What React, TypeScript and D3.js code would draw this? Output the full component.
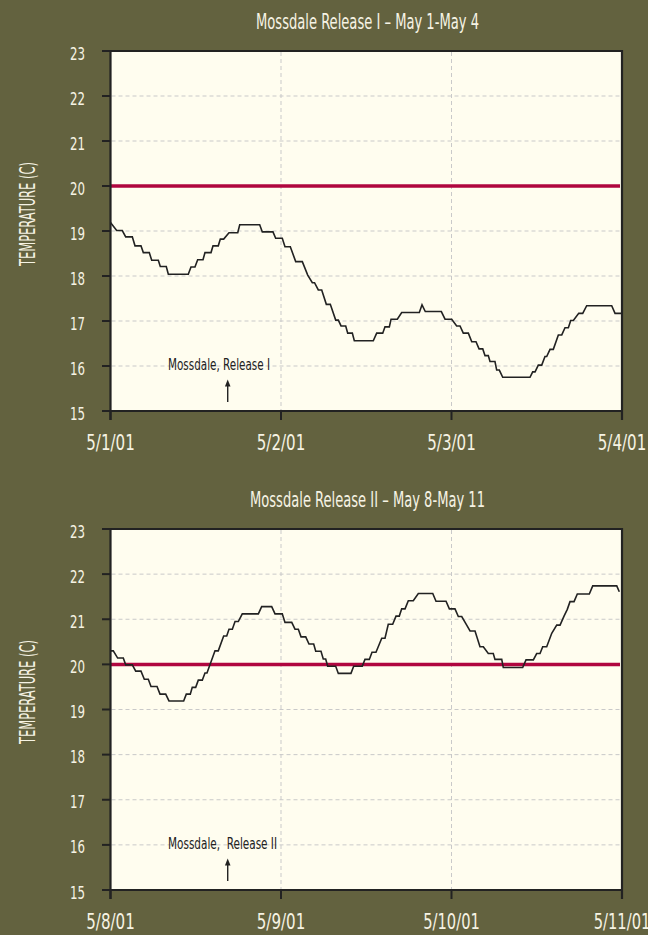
import React from "react";
import * as d3 from "d3";

// ---------- DATA ----------
// Hours since midnight of the first day, and water temperature (°C)
const HOURS_1 = [
  0, 0.87, 1.66, 2.14, 3.07, 3.45, 4.29, 4.62, 5.46, 5.8, 6.73, 7.01, 7.85, 8.14, 10.95, 11.33,
  11.89, 12.27, 13.02, 13.3, 14.15, 14.43, 15.17, 15.46, 15.93, 16.68, 17.91, 18.19, 21.0, 21.37,
  22.87, 23.25, 24.18, 24.56, 25.31, 26.07, 27.0, 27.76, 28.41, 28.72, 29.25, 29.73, 30.38, 30.94,
  31.7, 32.07, 32.45, 33.11, 33.39, 34.04, 34.32, 36.99, 37.47, 38.32, 38.64, 39.25, 39.49, 40.37,
  40.99, 43.47, 43.85, 44.31, 46.57, 47.09, 48.03, 48.73, 49.2, 49.66, 50.37, 50.85, 51.45, 51.88,
  52.4, 52.72, 53.18, 53.42, 54.12, 54.36, 54.73, 55.21, 59.05, 59.43, 59.76, 60.22, 60.7, 61.16,
  61.4, 61.87, 62.33, 63.04, 63.52, 63.98, 64.45, 64.78, 65.15, 65.91, 66.47, 67.03, 70.55, 71.02,
  72.0,
];
const TEMPS_1 = [
  19.19, 19.01, 19.01, 18.87, 18.87, 18.67, 18.67, 18.52, 18.52, 18.35, 18.35, 18.21, 18.21, 18.04,
  18.04, 18.2, 18.2, 18.36, 18.36, 18.52, 18.52, 18.67, 18.67, 18.82, 18.82, 18.96, 18.96, 19.14,
  19.14, 18.98, 18.98, 18.84, 18.84, 18.65, 18.65, 18.32, 18.32, 18.02, 17.85, 17.85, 17.69, 17.69,
  17.37, 17.37, 17.02, 17.02, 16.89, 16.89, 16.73, 16.73, 16.56, 16.56, 16.73, 16.73, 16.87, 16.87,
  17.04, 17.04, 17.19, 17.19, 17.36, 17.21, 17.21, 17.04, 17.04, 16.89, 16.89, 16.73, 16.73, 16.54,
  16.54, 16.38, 16.38, 16.23, 16.23, 16.1, 16.1, 15.91, 15.91, 15.75, 15.75, 15.87, 15.87, 16.02,
  16.02, 16.21, 16.21, 16.37, 16.37, 16.69, 16.69, 16.85, 16.85, 17.01, 17.01, 17.17, 17.17, 17.34,
  17.34, 17.17, 17.17,
];

const HOURS_2 = [
  0, 0.39, 1.01, 1.8, 2.14, 3.07, 3.55, 4.29, 4.76, 5.32, 5.7, 6.55, 6.97, 7.77, 8.23, 10.3, 10.67,
  11.23, 11.51, 11.99, 12.36, 12.92, 13.3, 13.58, 14.71, 15.17, 15.93, 16.36, 16.68, 17.15, 17.53,
  17.99, 18.55, 20.81, 21.28, 22.69, 23.16, 24.18, 24.56, 25.51, 25.97, 26.44, 26.82, 27.48, 27.94,
  28.6, 28.89, 29.63, 29.95, 30.29, 30.57, 31.7, 32.07, 33.85, 34.23, 35.44, 35.82, 36.43, 36.81,
  37.37, 38.18, 38.64, 39.1, 39.72, 40.19, 40.65, 40.99, 41.46, 41.92, 42.62, 43.33, 45.36, 45.82,
  47.23, 47.7, 48.49, 48.96, 49.44, 50.14, 50.61, 51.31, 52.01, 52.48, 53.18, 53.88, 54.12, 55.07,
  55.29, 58.02, 58.49, 59.52, 59.99, 60.46, 60.84, 61.4, 62.11, 62.81, 63.28, 63.84, 64.3, 64.68,
  65.25, 65.71, 67.4, 67.88, 71.26, 71.62,
];
const TEMPS_2 = [
  20.3, 20.3, 20.14, 20.14, 19.99, 19.99, 19.85, 19.85, 19.67, 19.67, 19.51, 19.51, 19.34, 19.34,
  19.19, 19.19, 19.34, 19.34, 19.49, 19.49, 19.65, 19.65, 19.81, 19.81, 20.3, 20.3, 20.63, 20.63,
  20.78, 20.78, 20.95, 20.95, 21.12, 21.12, 21.28, 21.28, 21.12, 21.12, 20.93, 20.93, 20.78, 20.78,
  20.61, 20.61, 20.45, 20.45, 20.29, 20.29, 20.12, 20.12, 19.96, 19.96, 19.8, 19.8, 19.96, 19.96,
  20.11, 20.11, 20.27, 20.27, 20.58, 20.58, 20.89, 20.89, 21.07, 21.07, 21.23, 21.23, 21.41, 21.41,
  21.57, 21.57, 21.4, 21.4, 21.23, 21.23, 21.06, 21.06, 20.87, 20.74, 20.74, 20.39, 20.39, 20.24,
  20.24, 20.11, 20.11, 19.93, 19.93, 20.1, 20.1, 20.24, 20.24, 20.39, 20.39, 20.69, 20.87, 20.87,
  21.07, 21.22, 21.39, 21.39, 21.56, 21.56, 21.74, 21.74, 21.61,
];

const X_TICK_HOURS = [0, 24, 48, 72];
const X_LABELS_1 = ["5/1/01", "5/2/01", "5/3/01", "5/4/01"];
const X_LABELS_2 = ["5/8/01", "5/9/01", "5/10/01", "5/11/01"];
const Y_TICKS = [15, 16, 17, 18, 19, 20, 21, 22, 23];
const THRESHOLD = 20;
const TITLE_1 = "Mossdale Release I \u2013 May 1-May 4";
const TITLE_2 = "Mossdale Release II \u2013 May 8-May 11";
const Y_TITLE = "TEMPERATURE (C)";
const NOTE_1 = "Mossdale, Release I";
const NOTE_2 = "Mossdale,  Release II";
// annotation anchor (hour, temp) for text start / arrow
const NOTE_TEXT_HOUR = 8.1;
const NOTE_TEXT_TEMP = 15.91;
const NOTE_ARROW_HOUR = 16.5;
const NOTE_ARROW_TIP = 15.7;
const NOTE_ARROW_BASE = 15.2;

// ---------- STYLE ----------
const W = 648;
const H = 935;
const BG = "#63623f";
const PLOT_BG = "#fffdef";
const LIGHT = "#f6f3e4";
const DARK = "#222222";
const RED = "#b0063f";
const FONT = "'DejaVu Sans Condensed', 'Liberation Sans Narrow', 'Roboto', sans-serif";

const LEFT = 110.5;
const RIGHT = 622;

type PanelProps = {
  top: number;
  bottom: number;
  hours: number[];
  temps: number[];
  xLabels: string[];
  title: string;
  titleBaseline: number;
  titleWidth: number;
  note: string;
  noteWidth: number;
  yTitleCenter: number;
};

function Panel(p: PanelProps) {
  const x = d3.scaleLinear().domain([0, 72]).range([LEFT, RIGHT]);
  const y = d3.scaleLinear().domain([15, 23]).range([p.bottom, p.top]);
  const pts = p.hours.map((h, i) => [h, p.temps[i]] as [number, number]);
  const line = d3
    .line<[number, number]>()
    .x((d) => x(d[0]))
    .y((d) => y(d[1]));

  const ax = x(NOTE_ARROW_HOUR);
  const tipY = y(NOTE_ARROW_TIP);
  const baseY = y(NOTE_ARROW_BASE);

  return (
    <g>
      <text
        x={367.5}
        y={p.titleBaseline}
        textAnchor="middle"
        fontSize={21}
        fill={LIGHT}
        fontFamily={FONT}
        textLength={p.titleWidth}
        lengthAdjust="spacingAndGlyphs"
      >
        {p.title}
      </text>
      <rect x={LEFT} y={p.top} width={RIGHT - LEFT} height={p.bottom - p.top} fill={PLOT_BG} />
      {/* grid */}
      {Y_TICKS.filter((t) => t > 15 && t < 23).map((t) => (
        <line
          key={"gy" + t}
          x1={LEFT + 1}
          x2={RIGHT - 1}
          y1={y(t)}
          y2={y(t)}
          stroke="#c9c9c9"
          strokeWidth={1}
          strokeDasharray="4 3"
        />
      ))}
      {X_TICK_HOURS.filter((h) => h > 0 && h < 72).map((h) => (
        <line
          key={"gx" + h}
          x1={x(h)}
          x2={x(h)}
          y1={p.top + 1}
          y2={p.bottom - 1}
          stroke="#c9c9c9"
          strokeWidth={1}
          strokeDasharray="4 3"
        />
      ))}
      {/* threshold */}
      <line
        x1={LEFT}
        x2={x(72) - 2}
        y1={y(THRESHOLD)}
        y2={y(THRESHOLD)}
        stroke={RED}
        strokeWidth={3.5}
      />
      {/* data */}
      <path d={line(pts) || ""} fill="none" stroke={DARK} strokeWidth={1.6} strokeLinejoin="miter" />
      {/* frame */}
      <line x1={LEFT} x2={RIGHT} y1={p.top} y2={p.top} stroke={DARK} strokeWidth={2} />
      <line x1={RIGHT} x2={RIGHT} y1={p.top - 1} y2={p.bottom + 9} stroke={DARK} strokeWidth={2.2} />
      <line x1={LEFT} x2={LEFT} y1={p.top - 1} y2={p.bottom + 9} stroke={DARK} strokeWidth={2.2} />
      <line x1={LEFT - 1} x2={RIGHT + 1} y1={p.bottom} y2={p.bottom} stroke={DARK} strokeWidth={2.2} />
      {/* y ticks */}
      {Y_TICKS.map((t) => (
        <g key={"yt" + t}>
          <line x1={LEFT - 8.5} x2={LEFT} y1={y(t)} y2={y(t)} stroke={DARK} strokeWidth={2} />
          <text
            x={85}
            y={y(t) + 8.5}
            textAnchor="end"
            fontSize={18.5}
            fill={LIGHT}
            fontFamily={FONT}
            textLength={15}
            lengthAdjust="spacingAndGlyphs"
          >
            {t}
          </text>
        </g>
      ))}
      {/* x ticks */}
      {X_TICK_HOURS.map((h, i) => (
        <g key={"xt" + h}>
          <line x1={x(h)} x2={x(h)} y1={p.bottom} y2={p.bottom + 9} stroke={DARK} strokeWidth={2} />
          <text
            x={x(h)}
            y={p.bottom + 38.5}
            textAnchor="middle"
            fontSize={21.5}
            fill={LIGHT}
            fontFamily={FONT}
            textLength={p.xLabels[i].length * 8.1}
            lengthAdjust="spacingAndGlyphs"
          >
            {p.xLabels[i]}
          </text>
        </g>
      ))}
      {/* y title */}
      <text
        transform={`translate(35,${p.yTitleCenter}) rotate(-90)`}
        textAnchor="middle"
        fontSize={21}
        fill={LIGHT}
        fontFamily={FONT}
        textLength={104}
        lengthAdjust="spacingAndGlyphs"
      >
        {Y_TITLE}
      </text>
      {/* annotation */}
      <text
        x={x(NOTE_TEXT_HOUR)}
        y={y(NOTE_TEXT_TEMP)}
        fontSize={16.5}
        fill={DARK}
        fontFamily={FONT}
        textLength={p.noteWidth}
        lengthAdjust="spacingAndGlyphs"
        style={{ whiteSpace: "pre" }}
      >
        {p.note}
      </text>
      <line x1={ax} x2={ax} y1={baseY} y2={tipY + 5} stroke={DARK} strokeWidth={1.4} />
      <path
        d={`M${ax},${tipY} L${ax - 2.8},${tipY + 7} L${ax + 2.8},${tipY + 7} Z`}
        fill={DARK}
      />
    </g>
  );
}

export default function App() {
  return (
    <svg
      width={W}
      height={H}
      viewBox={`0 0 ${W} ${H}`}
      style={{ position: "absolute", left: 0, top: 0, display: "block" }}
    >
      <rect x={0} y={0} width={W} height={H} fill={BG} />
      <Panel
        top={51}
        bottom={411}
        hours={HOURS_1}
        temps={TEMPS_1}
        xLabels={X_LABELS_1}
        title={TITLE_1}
        titleBaseline={29}
        titleWidth={223}
        note={NOTE_1}
        noteWidth={102}
        yTitleCenter={214}
      />
      <Panel
        top={529}
        bottom={890}
        hours={HOURS_2}
        temps={TEMPS_2}
        xLabels={X_LABELS_2}
        title={TITLE_2}
        titleBaseline={507}
        titleWidth={235}
        note={NOTE_2}
        noteWidth={109}
        yTitleCenter={692}
      />
    </svg>
  );
}
